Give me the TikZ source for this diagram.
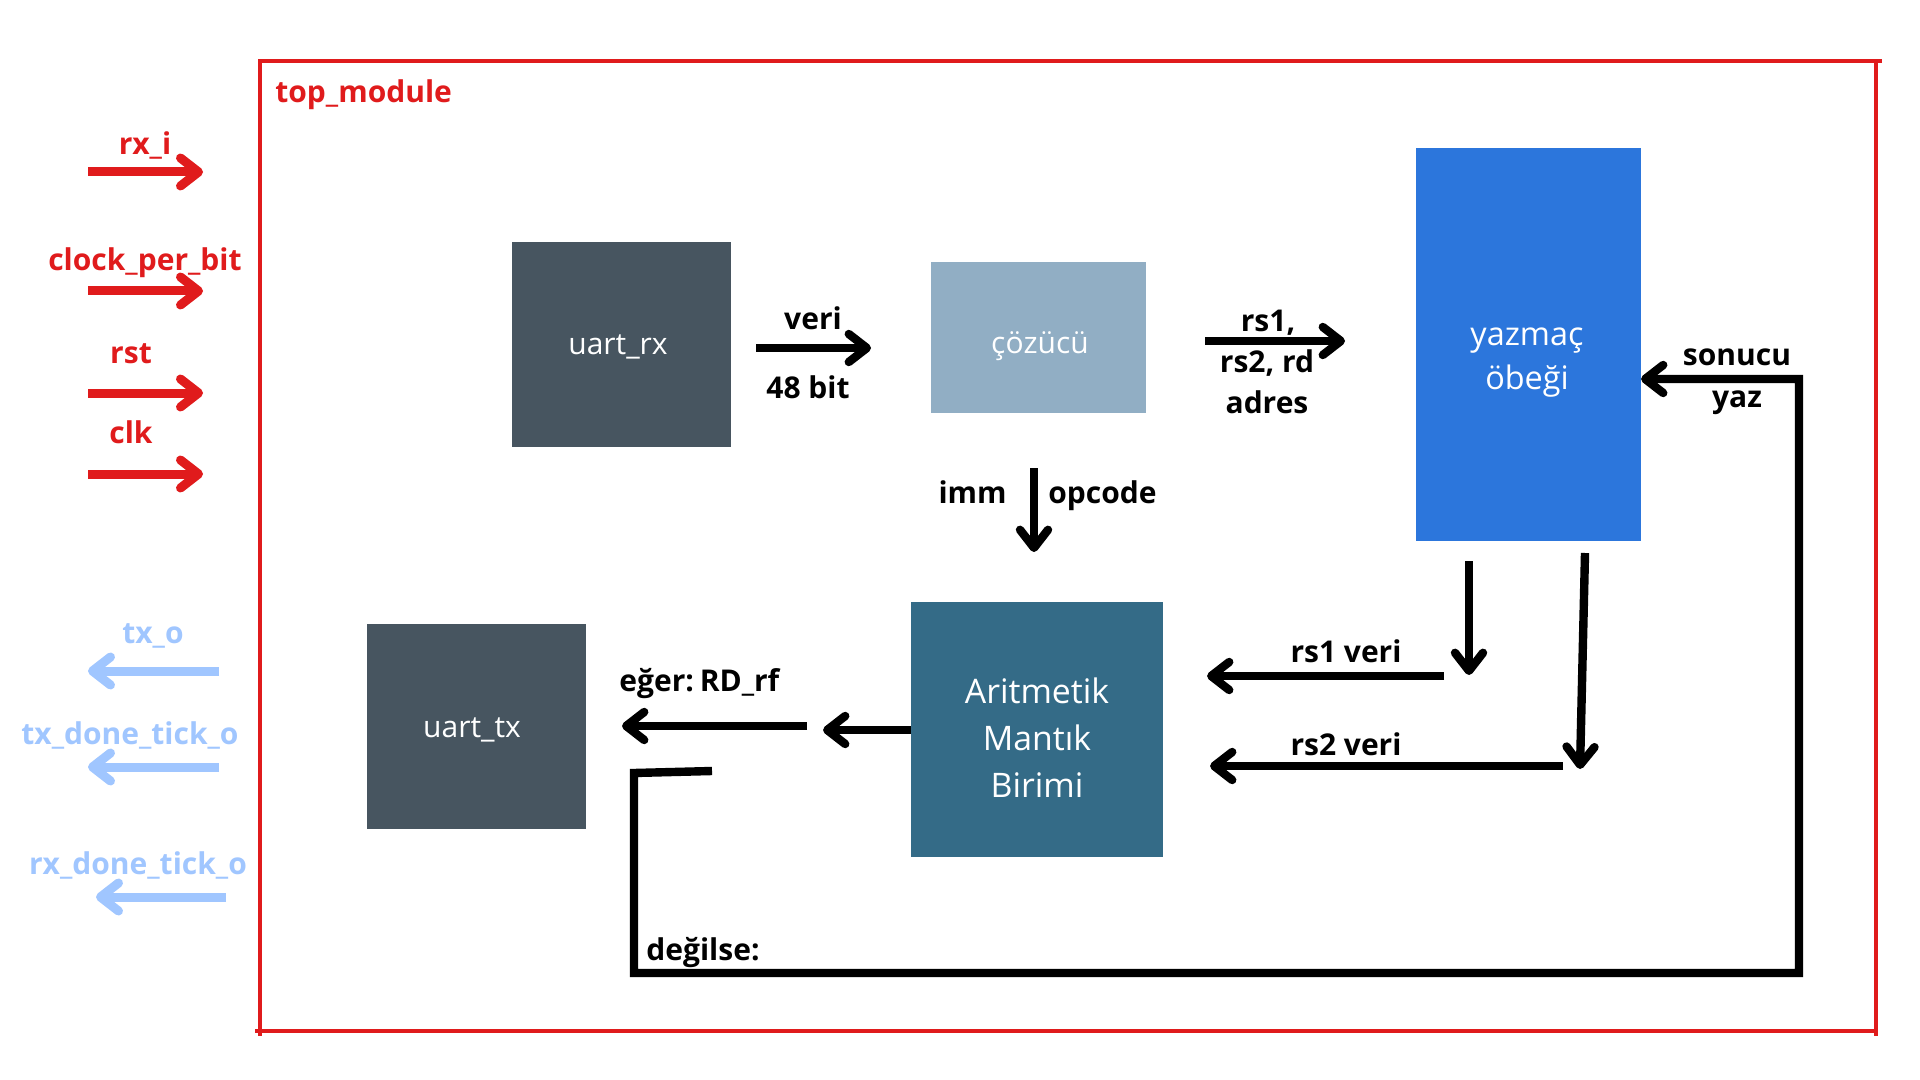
\documentclass[tikz,border=0pt]{standalone}
\usepackage{fontspec}
\setmainfont{Open Sans}
\usetikzlibrary{arrows.meta}
\definecolor{fred}{RGB}{224,27,28}
\definecolor{fblue}{RGB}{160,198,255}
\definecolor{uartc}{RGB}{71,85,96}
\definecolor{decc}{RGB}{145,174,196}
\definecolor{rfc}{RGB}{44,118,220}
\definecolor{aluc}{RGB}{52,107,135}
\tikzset{
  tipb/.tip={Straight Barb[length=9pt,width=14pt,round]},
  blk/.style={line width=4.2pt,draw=black,-tipb},
  redarr/.style={line width=4.5pt,draw=fred,-tipb},
  bluearr/.style={line width=4.5pt,draw=fblue,-tipb},
  box/.style={rectangle,inner sep=0pt,outer sep=0pt,draw=none},
  btxt/.style={text=white,font=\fontsize{15pt}{18pt}\selectfont,inner sep=0pt},
  btxtl/.style={text=white,font=\fontsize{16.2pt}{19pt}\selectfont,inner sep=0pt},
  btxta/.style={text=white,font=\fontsize{16.9pt}{20pt}\selectfont,inner sep=0pt},
  lbl/.style={text=black,font=\bfseries\fontsize{15pt}{18pt}\selectfont,inner sep=0pt},
  rlbl/.style={text=fred,font=\bfseries\fontsize{15pt}{18pt}\selectfont,inner sep=0pt},
  blbl/.style={text=fblue,font=\bfseries\fontsize{15pt}{18pt}\selectfont,inner sep=0pt},
}
\begin{document}
\begin{tikzpicture}[x=0.5pt,y=-0.5pt]
\useasboundingbox[fill=white] (0,0) rectangle (1920,1080);
% frame
\draw[fred,line width=2pt] (258,61) -- (1882,61);
\draw[fred,line width=2pt] (1876,61) -- (1876,1036);
\draw[fred,line width=2pt] (255,1031) -- (1876,1031);
\draw[fred,line width=2pt] (260,61) -- (260,1036);
\node[rlbl,anchor=base west] (title) at (275,103) {top\_module};
% boxes
\node[box,fill=uartc,minimum width=109.5pt,minimum height=102.5pt] (urx) at (621.5,344.5) {};
\node[btxt,anchor=base] (urxt) at (618,355) {uart\_rx};
\node[box,fill=decc,minimum width=107.5pt,minimum height=75.5pt] (dec) at (1038.5,337.5) {};
\node[btxt,anchor=base] (dect) at (1040,353) {çözücü};
\node[box,fill=rfc,minimum width=112.5pt,minimum height=196.5pt] (rf) at (1528.5,344.5) {};
\node[btxtl,anchor=base] (rft1) at (1527,345) {yazmaç};
\node[btxtl,anchor=base] (rft2) at (1527,389) {öbeği};
\node[box,fill=aluc,minimum width=126pt,minimum height=127.5pt] (alu) at (1037,729.5) {};
\node[btxta,anchor=base] (alut1) at (1037,703) {Aritmetik};
\node[btxta,anchor=base] (alut2) at (1037,750) {Mantık};
\node[btxta,anchor=base] (alut3) at (1037,797) {Birimi};
\node[box,fill=uartc,minimum width=109.5pt,minimum height=102.5pt] (utx) at (476.5,726.5) {};
\node[btxt,anchor=base] (utxt) at (472,737) {uart\_tx};
% inputs
\coordinate (i1s) at (88,172); \coordinate (i1e) at (203,172);
\coordinate (i2s) at (88,291); \coordinate (i2e) at (203,291);
\coordinate (i3s) at (88,393); \coordinate (i3e) at (203,393);
\coordinate (i4s) at (88,474); \coordinate (i4e) at (203,474);
\draw[redarr] (i1s) -- (i1e);
\draw[redarr] (i2s) -- (i2e);
\draw[redarr] (i3s) -- (i3e);
\draw[redarr] (i4s) -- (i4e);
\node[rlbl,anchor=base] (l1) at (145,155) {rx\_i};
\node[rlbl,anchor=base] (l2) at (145,271) {clock\_per\_bit};
\node[rlbl,anchor=base] (l3) at (131,364) {rst};
\node[rlbl,anchor=base] (l4) at (131,443) {clk};
% outputs
\coordinate (o1s) at (219,671); \coordinate (o1e) at (88,671);
\coordinate (o2s) at (219,767); \coordinate (o2e) at (88,767);
\coordinate (o3s) at (226,897); \coordinate (o3e) at (96,897);
\draw[bluearr] (o1s) -- (o1e);
\draw[bluearr] (o2s) -- (o2e);
\draw[bluearr] (o3s) -- (o3e);
\node[blbl,anchor=base] (m1) at (153,643) {tx\_o};
\node[blbl,anchor=base] (m2) at (130,744) {tx\_done\_tick\_o};
\node[blbl,anchor=base] (m3) at (138,874) {rx\_done\_tick\_o};
% veri
\coordinate (vs) at (756,348); \coordinate (ve) at (871,348);
\draw[blk] (vs) -- (ve);
\node[lbl,anchor=base] (veri) at (813,329) {veri};
\node[lbl,anchor=base] (bit) at (808,398) {48 bit};
% rs addresses
\coordinate (rss) at (1205,341); \coordinate (rse) at (1345,341);
\draw[blk] (rss) -- (rse);
\node[lbl,anchor=base] (rsa) at (1268,332) {rs1,};
\node[lbl,anchor=base] (rsb) at (1267,372) {rs2, rd};
\node[lbl,anchor=base] (rsc) at (1267,413) {adres};
% imm opcode
\coordinate (ims) at (1034,468); \coordinate (ime) at (1034,552);
\draw[blk] (ims) -- (ime);
\node[lbl,anchor=base east] (imm) at (1007,503) {imm};
\node[lbl,anchor=base west] (opc) at (1048,503) {opcode};
% rf outputs
\coordinate (r1s) at (1469,561); \coordinate (r1e) at (1469,675);
\coordinate (r2s) at (1585,553); \coordinate (r2e) at (1580,769);
\draw[blk] (r1s) -- (r1e);
\draw[blk] (r2s) -- (r2e);
\coordinate (h1s) at (1444,676); \coordinate (h1e) at (1207,676);
\coordinate (h2s) at (1563,766); \coordinate (h2e) at (1210,766);
\draw[blk] (h1s) -- (h1e);
\draw[blk] (h2s) -- (h2e);
\node[lbl,anchor=base] (rs1v) at (1346,662) {rs1 veri};
\node[lbl,anchor=base] (rs2v) at (1346,755) {rs2 veri};
% alu out
\coordinate (ao) at (823,730);
\draw[blk] (alu.west |- ao) -- (ao);
\coordinate (es) at (807,726); \coordinate (ee) at (622,726);
\draw[blk] (es) -- (ee);
\node[lbl,anchor=base west] (eger) at (619,691) {eğer:\kern-1pt\ RD\_rf};
% feedback
\coordinate (fa) at (712,771);
\coordinate (fb) at (634,773);
\coordinate (fc) at (634,973);
\coordinate (fd) at (1799,973);
\coordinate (fe) at (1799,379);
\draw[blk,line join=miter] (fa) -- (fb) -- (fc) -- (fd) -- (fe) -- (fe -| rf.east);
\node[lbl,anchor=base] (son) at (1737,365) {sonucu};
\node[lbl,anchor=base] (yaz) at (1737,407) {yaz};
\node[lbl,anchor=base west] (deg) at (646,960) {değilse:};
\end{tikzpicture}
\end{document}
